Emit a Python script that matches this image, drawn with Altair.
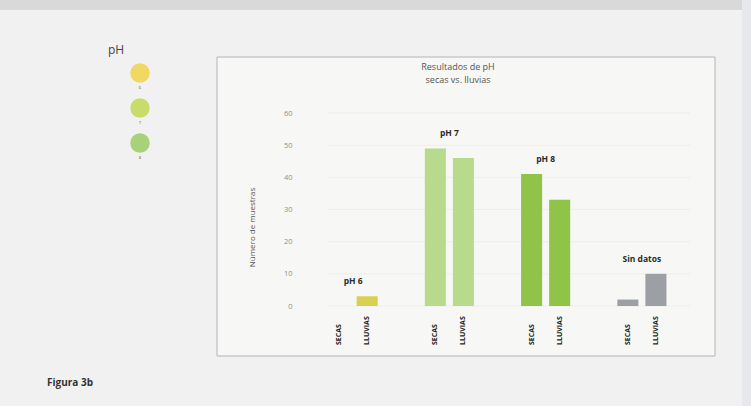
import altair as alt
import pandas as pd

# ---- data ----
groups = ["pH 6", "pH 7", "pH 8", "Sin datos"]
seasons = ["SECAS", "LLUVIAS"]
secas = [0, 49, 41, 2]
lluvias = [3, 46, 33, 10]
y_ticks = [0, 10, 20, 30, 40, 50, 60]
legend_ph = ["6", "7", "8"]

group_colors = ["#d9d052", "#b8da8c", "#8fc449", "#9c9fa3"]
legend_colors = ["#f1d862", "#c8dc6c", "#a7d27a"]

FONT = "Open Sans"

rows = []
for g, s_val, l_val in zip(groups, secas, lluvias):
    rows.append({"group": g, "season": "SECAS", "value": s_val})
    rows.append({"group": g, "season": "LLUVIAS", "value": l_val})
df = pd.DataFrame(rows)
df_max = df.groupby("group", as_index=False)["value"].max()
df_ticks = pd.DataFrame({"t": y_ticks})
df_leg = pd.DataFrame({"ph": legend_ph})
one = pd.DataFrame({"a": [0]})

W, H = 385, 193
PL, PT = 305, 113

xg = alt.X("group:N", sort=groups, axis=None,
           scale=alt.Scale(domain=groups, paddingInner=0, paddingOuter=0))
xo = alt.XOffset("season:N", sort=seasons,
                 scale=alt.Scale(domain=seasons, paddingInner=0.25, paddingOuter=0.84))


def yscale():
    return alt.Scale(domain=[0, 60], nice=False, zero=True)


grid = alt.Chart(df_ticks).mark_rule(color="#ededeb", strokeWidth=1).encode(
    y=alt.Y("t:Q", scale=yscale(),
            axis=alt.Axis(values=y_ticks, domain=False, ticks=False, grid=False,
                          labelFontSize=7.5, labelColor="#8f8f8f", labelFont=FONT,
                          labelPadding=13, orient="left", zindex=1,
                          title="Número de muestras", titleFont=FONT,
                          titleFontSize=8, titleFontWeight="normal", titleColor="#555555",
                          titleAngle=270, titleAlign="center", titleBaseline="middle",
                          titleX=-53, titleY=114)),
    x=alt.value(22), x2=alt.value(W),
)

bars = alt.Chart(df).mark_bar().encode(
    x=xg, xOffset=xo,
    y=alt.Y("value:Q", scale=yscale(), axis=None),
    color=alt.Color("group:N", scale=alt.Scale(domain=groups, range=group_colors), legend=None),
)

grp_labels = alt.Chart(df_max).mark_text(
    fontSize=8.5, fontWeight="bold", font=FONT, color="#2b2b2b", dy=-10, baseline="bottom"
).encode(x=xg, y=alt.Y("value:Q", scale=yscale(), axis=None), text="group:N")

season_labels = alt.Chart(df).mark_text(
    angle=270, align="left", baseline="middle", dx=-39, fontSize=7,
    fontWeight="bold", font=FONT, color="#1e1e1e"
).encode(x=xg, xOffset=xo, y=alt.Y(datum=0, scale=yscale(), axis=None), text="season:N")

# decorations
box = alt.Chart(one).mark_rect(fill="#f7f7f5", stroke="#b4b4b4", strokeWidth=1).encode(
    x=alt.value(217 - PL), x2=alt.value(715 - PL),
    y=alt.value(57 - PT), y2=alt.value(356 - PT))
top_strip = alt.Chart(one).mark_rect(fill="#d9d9d9").encode(
    x=alt.value(-PL), x2=alt.value(751 - PL), y=alt.value(-PT), y2=alt.value(10 - PT))
right_strip = alt.Chart(one).mark_rect(fill="#e6e8ee").encode(
    x=alt.value(742 - PL), x2=alt.value(751 - PL), y=alt.value(-PT), y2=alt.value(406 - PT))

title = alt.Chart(one).mark_text(
    text="Resultados de pH\nsecas vs. lluvias", lineBreak="\n", lineHeight=13,
    fontSize=9, font=FONT, color="#555555", align="center", baseline="middle"
).encode(x=alt.value(458 - PL), y=alt.value(67 - PT))

ph_title = alt.Chart(one).mark_text(
    text="pH", fontSize=12, font=FONT, color="#444444", align="left", baseline="middle"
).encode(x=alt.value(108 - PL), y=alt.value(50 - PT))

ph_y = alt.Y("ph:O", sort=legend_ph, axis=None,
             scale=alt.Scale(domain=legend_ph, range=[73 - PT, 143 - PT], padding=0))
circles = alt.Chart(df_leg).mark_circle(size=380, opacity=1).encode(
    x=alt.value(140 - PL), y=ph_y,
    color=alt.Color("ph:N", scale=alt.Scale(domain=legend_ph, range=legend_colors), legend=None))
circle_labels = alt.Chart(df_leg).mark_text(
    fontSize=4, font=FONT, color="#555555", dy=15, baseline="middle"
).encode(x=alt.value(140 - PL), y=ph_y, text="ph:N")

figura = alt.Chart(one).mark_text(
    text="Figura 3b", fontSize=10, fontWeight="bold", font=FONT, color="#333333",
    align="left", baseline="middle"
).encode(x=alt.value(47 - PL), y=alt.value(383 - PT))

chart = alt.layer(
    top_strip, right_strip, box, grid, bars, grp_labels, season_labels,
    circles, circle_labels, title, ph_title, figura
).resolve_scale(y="independent", color="independent").properties(
    width=W, height=H,
    autosize=alt.AutoSizeParams(type="none"),
    padding={"left": PL, "top": PT, "right": 751 - PL - W, "bottom": 406 - PT - H},
    background="#f1f1f1",
).configure_view(strokeWidth=0)

chart.save("out.html", embed_options={"renderer": "svg", "actions": False})
